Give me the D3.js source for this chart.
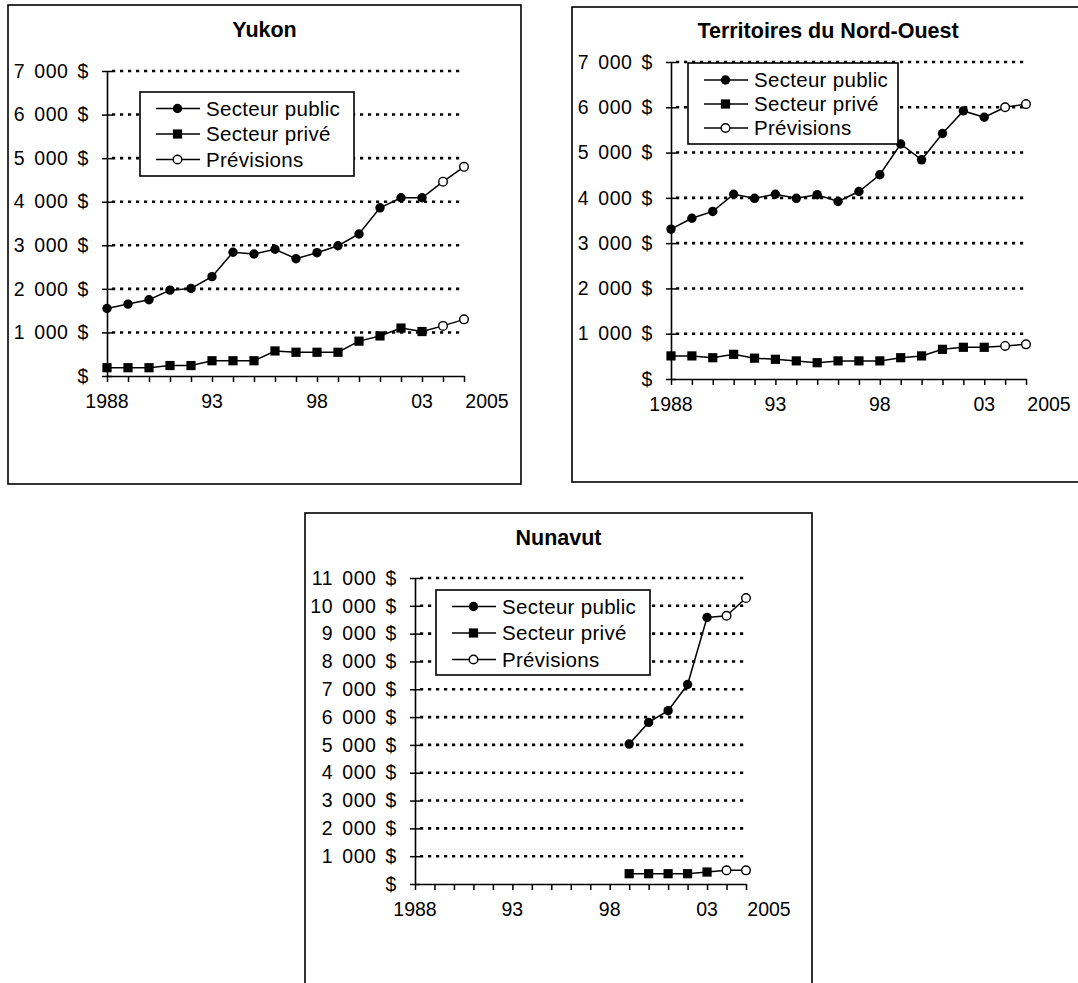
<!DOCTYPE html>
<html>
<head>
<meta charset="utf-8">
<script src="https://cdn.jsdelivr.net/npm/d3@7"></script>
<style>
  html, body { margin: 0; padding: 0; background: #fff; }
  svg { display: block; font-family: "Liberation Sans", Arial, Helvetica, sans-serif; }
</style>
</head>
<body>
<svg id="chart" width="1078" height="983"></svg>
<script>
// ---------------- DATA ----------------
const years = [1988, 1989, 1990, 1991, 1992, 1993, 1994, 1995, 1996, 1997, 1998, 1999, 2000, 2001, 2002, 2003, 2004, 2005];
const xLabelYears = [1988, 1993, 1998, 2003, 2005];
const xLabelTexts = ["1988", "93", "98", "03", "2005"];
const seriesNames = ["Secteur public", "Secteur privé", "Prévisions"];

// Yukon (1988-2003 actual, 2004-2005 forecasts)
const yukonPublic   = [1550, 1650, 1750, 1970, 2010, 2280, 2840, 2800, 2910, 2690, 2830, 2990, 3260, 3860, 4090, 4090, null, null];
const yukonPrivate  = [190, 190, 190, 240, 240, 350, 350, 350, 575, 545, 545, 545, 800, 920, 1100, 1020, null, null];
const yukonForecastPublic  = [null, null, null, null, null, null, null, null, null, null, null, null, null, null, null, null, 4460, 4800];
const yukonForecastPrivate = [null, null, null, null, null, null, null, null, null, null, null, null, null, null, null, null, 1150, 1300];
const yukonYTicks = [0, 1000, 2000, 3000, 4000, 5000, 6000, 7000];

// Territoires du Nord-Ouest
const nwtPublic   = [3310, 3550, 3700, 4080, 3990, 4080, 3990, 4070, 3920, 4140, 4510, 5190, 4840, 5420, 5920, 5780, null, null];
const nwtPrivate  = [510, 510, 470, 545, 460, 435, 400, 360, 400, 400, 400, 470, 510, 655, 700, 700, null, null];
const nwtForecastPublic  = [null, null, null, null, null, null, null, null, null, null, null, null, null, null, null, null, 6000, 6070];
const nwtForecastPrivate = [null, null, null, null, null, null, null, null, null, null, null, null, null, null, null, null, 730, 765];
const nwtYTicks = [0, 1000, 2000, 3000, 4000, 5000, 6000, 7000];

// Nunavut (from 1999)
const nunPublic   = [null, null, null, null, null, null, null, null, null, null, null, 5030, 5810, 6230, 7170, 9580, null, null];
const nunPrivate  = [null, null, null, null, null, null, null, null, null, null, null, 370, 370, 370, 370, 430, null, null];
const nunForecastPublic  = [null, null, null, null, null, null, null, null, null, null, null, null, null, null, null, null, 9640, 10280];
const nunForecastPrivate = [null, null, null, null, null, null, null, null, null, null, null, null, null, null, null, null, 490, 490];
const nunYTicks = [0, 1000, 2000, 3000, 4000, 5000, 6000, 7000, 8000, 9000, 10000, 11000];

// ---------------- LAYOUT ----------------
const panels = [
  { title: "Yukon", box: [8, 5, 521, 484], x0: 107, x1: 464, yTop: 71, yBot: 376,
    yTicks: yukonYTicks, pub: yukonPublic, priv: yukonPrivate, fPub: yukonForecastPublic, fPriv: yukonForecastPrivate,
    titleY: 37, legend: { x: 140, y: 92, w: 214, h: 84, row0: 16.5, step: 25.5 } },
  { title: "Territoires du Nord-Ouest", box: [572, 7, 1084, 482], x0: 671, x1: 1026, yTop: 62, yBot: 379,
    yTicks: nwtYTicks, pub: nwtPublic, priv: nwtPrivate, fPub: nwtForecastPublic, fPriv: nwtForecastPrivate,
    titleY: 38, legend: { x: 688, y: 63, w: 210, h: 81, row0: 17, step: 24 } },
  { title: "Nunavut", box: [305, 513, 812, 995], x0: 415, x1: 746, yTop: 578, yBot: 884,
    yTicks: nunYTicks, pub: nunPublic, priv: nunPrivate, fPub: nunForecastPublic, fPriv: nunForecastPrivate,
    titleY: 545, legend: { x: 436, y: 590, w: 214, h: 85, row0: 16.5, step: 26.5 } }
];

const svg = d3.select("#chart");
const fmtY = v => v === 0 ? "$" : d3.format(",")(v).replace(/,/g, " ") + " $";

function drawMarker(g, type, cx, cy) {
  if (type === "circle") {
    g.append("circle").attr("cx", cx).attr("cy", cy).attr("r", 4.7).attr("fill", "#000");
  } else if (type === "square") {
    g.append("rect").attr("x", cx - 4.6).attr("y", cy - 4.6).attr("width", 9.2).attr("height", 9.2).attr("fill", "#000");
  } else {
    g.append("circle").attr("cx", cx).attr("cy", cy).attr("r", 4.3).attr("fill", "#fff")
      .attr("stroke", "#000").attr("stroke-width", 1.4);
  }
}

panels.forEach(p => {
  const g = svg.append("g");
  const [bx0, by0, bx1, by1] = p.box;
  g.append("rect").attr("x", bx0).attr("y", by0).attr("width", bx1 - bx0).attr("height", by1 - by0)
    .attr("fill", "#fff").attr("stroke", "#000").attr("stroke-width", 1.6);

  g.append("text").attr("x", (bx0 + bx1) / 2).attr("y", p.titleY)
    .attr("text-anchor", "middle").attr("font-weight", "bold").attr("font-size", 21.5)
    .text(p.title);

  const x = d3.scaleLinear().domain([years[0], years[years.length - 1]]).range([p.x0, p.x1]);
  const yMax = p.yTicks[p.yTicks.length - 1];
  const y = d3.scaleLinear().domain([0, yMax]).range([p.yBot, p.yTop]);

  // gridlines
  g.append("g").selectAll("line").data(p.yTicks.filter(v => v > 0)).join("line")
    .attr("x1", p.x0 + 5).attr("x2", p.x1).attr("y1", d => y(d)).attr("y2", d => y(d))
    .attr("stroke", "#000").attr("stroke-width", 2.6).attr("stroke-dasharray", "3.2,4.8");

  // y axis
  const yAxis = d3.axisLeft(y).tickValues(p.yTicks).tickFormat(fmtY).tickSizeInner(5).tickSizeOuter(0).tickPadding(13);
  const ya = g.append("g").attr("transform", `translate(${p.x0},0)`).call(yAxis);
  ya.select(".domain").attr("stroke", "#000").attr("stroke-width", 1.6);
  ya.selectAll(".tick line").attr("stroke", "#000").attr("stroke-width", 1.5).attr("x2", 5).attr("x1", -5);
  ya.selectAll(".tick text").attr("font-size", 19.5).attr("font-family", "'Liberation Sans', Arial, sans-serif")
    .attr("fill", "#000").style("word-spacing", "3px").style("letter-spacing", "0.6px");

  // x axis
  const xAxis = d3.axisBottom(x).tickValues(years).tickFormat("").tickSizeInner(6).tickSizeOuter(0);
  const xa = g.append("g").attr("transform", `translate(0,${p.yBot})`).call(xAxis);
  xa.select(".domain").attr("stroke", "#000").attr("stroke-width", 1.6);
  xa.selectAll(".tick line").attr("stroke", "#000").attr("stroke-width", 1.5);
  g.append("g").selectAll("text").data(xLabelYears).join("text")
    .attr("x", (d, i) => x(d) + (i === xLabelYears.length - 1 ? 23 : 0))
    .attr("y", p.yBot + 32).attr("text-anchor", "middle").attr("font-size", 19.5)
    .text((d, i) => xLabelTexts[i]);

  // series
  const line = d3.line().defined(d => d.v != null).x(d => x(d.year)).y(d => y(d.v));
  const mk = arr => years.map((yr, i) => ({ year: yr, v: arr[i] }));
  const pub = mk(p.pub), priv = mk(p.priv), fPub = mk(p.fPub), fPriv = mk(p.fPriv);

  function forecastPath(actual, fc) {
    const lastActual = actual.filter(d => d.v != null).slice(-1);
    return lastActual.concat(fc.filter(d => d.v != null));
  }
  [pub, priv].forEach(s => {
    g.append("path").attr("d", line(s)).attr("fill", "none").attr("stroke", "#000").attr("stroke-width", 1.5);
  });
  [[pub, fPub], [priv, fPriv]].forEach(([a, f]) => {
    g.append("path").attr("d", line(forecastPath(a, f))).attr("fill", "none").attr("stroke", "#000").attr("stroke-width", 1.5);
  });
  pub.filter(d => d.v != null).forEach(d => drawMarker(g, "circle", x(d.year), y(d.v)));
  priv.filter(d => d.v != null).forEach(d => drawMarker(g, "square", x(d.year), y(d.v)));
  fPub.concat(fPriv).filter(d => d.v != null).forEach(d => drawMarker(g, "open", x(d.year), y(d.v)));

  // legend
  const L = p.legend;
  const lg = g.append("g").attr("transform", `translate(${L.x},${L.y})`);
  lg.append("rect").attr("width", L.w).attr("height", L.h).attr("fill", "#fff")
    .attr("stroke", "#000").attr("stroke-width", 1.6);
  const types = ["circle", "square", "open"];
  seriesNames.forEach((name, i) => {
    const cy = L.row0 + i * L.step;
    lg.append("line").attr("x1", 16).attr("x2", 60).attr("y1", cy).attr("y2", cy)
      .attr("stroke", "#000").attr("stroke-width", 1.5);
    drawMarker(lg, types[i], 37.5, cy);
    lg.append("text").attr("x", 66).attr("y", cy).attr("dy", "0.36em")
      .attr("font-size", 20.5).style("letter-spacing", "0.3px").text(name);
  });
});
</script>
</body>
</html>
